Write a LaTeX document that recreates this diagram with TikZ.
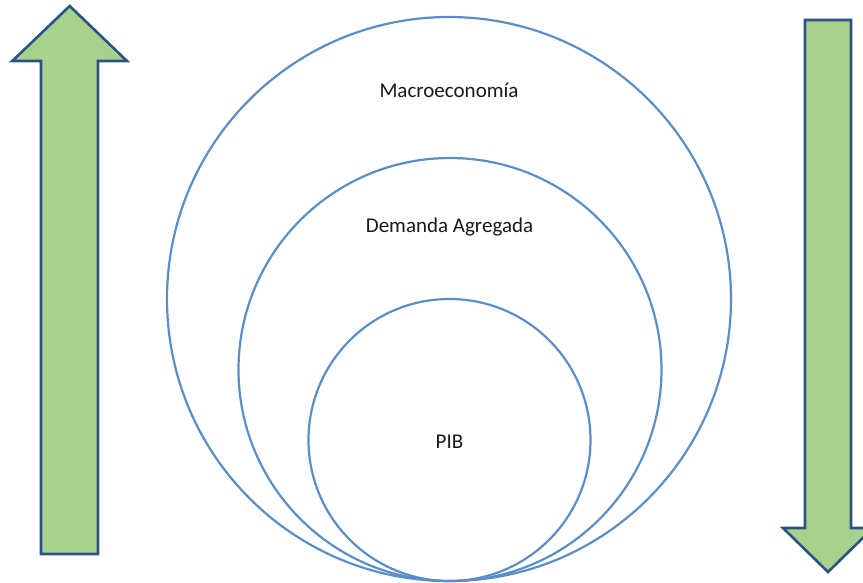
\documentclass[tikz,border=0pt]{standalone}
\usepackage{fontspec}
\setmainfont{Carlito}
\definecolor{ringblue}{HTML}{5B8EC8}
\definecolor{arrowfill}{HTML}{A9D18E}
\definecolor{arrowline}{HTML}{2B5385}
\tikzset{
  ring/.style={circle, draw=ringblue, line width=2.2pt, inner sep=0pt},
  bigarrow/.style={fill=arrowfill, draw=arrowline, line width=2.6pt, line join=miter},
  lbl/.style={font=\fontsize{21}{25}\selectfont, anchor=base, inner sep=0pt, text=black!90}
}
\begin{document}
\begin{tikzpicture}[x=1pt,y=-1pt]
\useasboundingbox (0,0) rectangle (863,582);
% circles
\node[ring, minimum size=564pt] (macro) at (449,299) {};
\node[ring, minimum size=423pt] (demanda) at (450,369.5) {};
\node[ring, minimum size=282pt] (pib) at (449.5,440) {};
% labels
\node[lbl] (tmacro) at (449,97) {Macroeconomía};
\node[lbl] (tdem) at (449.5,232) {Demanda Agregada};
\node[lbl] (tpib) at (449.5,448) {PIB};
% up arrow
\draw[bigarrow] (69.7,6) -- (127,61) -- (98,61) -- (98,554) -- (41,554) -- (41,61) -- (12.3,61) -- cycle;
% down arrow
\draw[bigarrow] (805,20) -- (851,20) -- (851,528) -- (873,528) -- (828,572) -- (783,528) -- (805,528) -- cycle;
\end{tikzpicture}
\end{document}
